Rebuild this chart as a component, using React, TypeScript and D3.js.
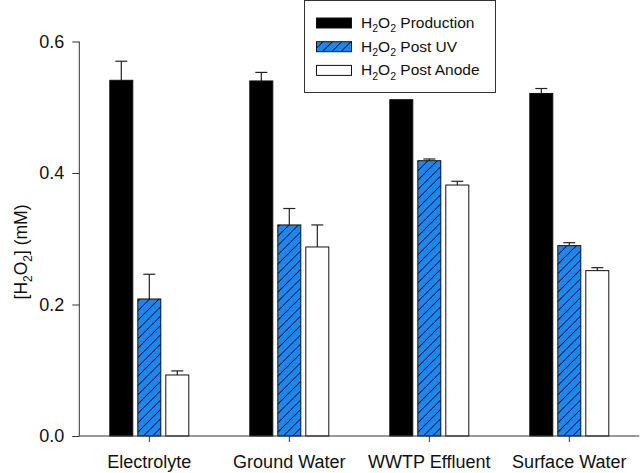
import React, { useRef, useEffect } from 'react';
import * as d3 from 'd3';

const categories = ['Electrolyte', 'Ground Water', 'WWTP Effluent', 'Surface Water'];
const seriesNames = ['Production', 'Post UV', 'Post Anode'];

const production = [0.541, 0.540, 0.5115, 0.521];
const productionErr = [0.029, 0.013, 0, 0.0075];
const postUV = [0.2084, 0.321, 0.4187, 0.2895];
const postUVErr = [0.0376, 0.025, 0.0026, 0.0045];
const postAnode = [0.0928, 0.2875, 0.3817, 0.2515];
const postAnodeErr = [0.0062, 0.0335, 0.0057, 0.0045];

const yTicks = [0, 0.2, 0.4, 0.6];

const FONT = '"Liberation Sans", Arial, sans-serif';
const BLUE = '#1a87f2';

// writes "H2O2" style text with subscripts into a text selection
function h2o2(sel: any, before: string, after: string, size: number) {
  const shift = size * 0.28;
  if (before) sel.append('tspan').text(before);
  sel.append('tspan').text('H');
  sel.append('tspan').attr('font-size', size * 0.68).attr('dy', shift).text('2');
  sel.append('tspan').attr('dy', -shift).text('O');
  sel.append('tspan').attr('font-size', size * 0.68).attr('dy', shift).text('2');
  sel.append('tspan').attr('dy', -shift).text(after);
}

const Chart: React.FC = () => {
  const ref = useRef<SVGSVGElement | null>(null);

  useEffect(() => {
    if (!ref.current) return;
    const svg = d3.select(ref.current);
    svg.selectAll('*').remove();

    const left = 79.3, right = 639.3, top = 41.5, bottom = 436;

    const defs = svg.append('defs');
    const pat = defs.append('pattern')
      .attr('id', 'hatch')
      .attr('patternUnits', 'userSpaceOnUse')
      .attr('width', 6.6)
      .attr('height', 6.6)
      .attr('patternTransform', 'rotate(45)');
    pat.append('rect').attr('width', 6.6).attr('height', 6.6).attr('fill', BLUE);
    pat.append('line').attr('x1', 0).attr('y1', 0).attr('x2', 0).attr('y2', 6.6)
      .attr('stroke', '#0a0a1a').attr('stroke-width', 1.7);

    const x0 = d3.scaleBand<string>().domain(categories).range([left, right]).padding(0);
    const y = d3.scaleLinear().domain([0, 0.6]).range([bottom, top]);

    const series = [
      { name: seriesNames[0], vals: production, err: productionErr, fill: '#000' },
      { name: seriesNames[1], vals: postUV, err: postUVErr, fill: 'url(#hatch)' },
      { name: seriesNames[2], vals: postAnode, err: postAnodeErr, fill: '#fff' },
    ];

    const g = svg.append('g');

    categories.forEach((c, ci) => {
      const cx = (x0(c) as number) + x0.bandwidth() / 2;
      const x1 = d3.scaleBand<string>().domain(seriesNames)
        .range([cx - 39.5, cx + 39.5]).paddingInner(5 / 28).paddingOuter(0);
      series.forEach((s) => {
        const bx = x1(s.name) as number;
        const bw = x1.bandwidth();
        const v = s.vals[ci];
        const e = s.err[ci];
        const mx = bx + bw / 2;
        if (e > 0) {
          g.append('line').attr('x1', mx).attr('x2', mx)
            .attr('y1', y(v)).attr('y2', y(v + e))
            .attr('stroke', '#222').attr('stroke-width', 1.2);
          g.append('line').attr('x1', mx - 6).attr('x2', mx + 6)
            .attr('y1', y(v + e)).attr('y2', y(v + e))
            .attr('stroke', '#222').attr('stroke-width', 1.2);
        }
        g.append('rect')
          .attr('x', bx).attr('y', y(v))
          .attr('width', bw).attr('height', y(0) - y(v))
          .attr('fill', s.fill)
          .attr('stroke', '#111').attr('stroke-width', 1);
      });
    });

    // y axis
    const yAxis = svg.append('g')
      .attr('transform', `translate(${left},0)`)
      .call(d3.axisLeft(y).tickValues(yTicks).tickFormat(d3.format('.1f')).tickSize(7).tickPadding(8));
    yAxis.select('.domain').attr('stroke', '#333').attr('d', `M-0,${top}V${bottom}`);
    yAxis.selectAll('.tick line').attr('stroke', '#333');
    yAxis.selectAll('text').attr('font-family', FONT).attr('font-size', 18).attr('fill', '#111');

    // x axis
    const xAxis = svg.append('g')
      .attr('transform', `translate(0,${bottom})`)
      .call(d3.axisBottom(x0).tickSize(6).tickPadding(13));
    xAxis.select('.domain').attr('stroke', '#333').attr('d', `M${left},0H${right}`);
    xAxis.selectAll('.tick line').attr('stroke', '#333');
    xAxis.selectAll('text').attr('font-family', FONT).attr('font-size', 18).attr('fill', '#111');

    // y title
    const yt = svg.append('text')
      .attr('transform', 'translate(27,252) rotate(-90)')
      .attr('text-anchor', 'middle')
      .attr('font-family', FONT).attr('font-size', 17.5).attr('fill', '#111');
    h2o2(yt, '[', '] (mM)', 17.5);

    // legend
    const lg = svg.append('g');
    lg.append('rect').attr('x', 304.5).attr('y', 0.5).attr('width', 191).attr('height', 92)
      .attr('fill', '#fff').attr('stroke', '#333').attr('stroke-width', 1);
    series.forEach((s, i) => {
      const cy = 23 + i * 23.7;
      lg.append('rect').attr('x', 316.5).attr('y', cy - 5).attr('width', 35).attr('height', 10)
        .attr('fill', s.fill).attr('stroke', '#111').attr('stroke-width', 1);
      const t = lg.append('text').attr('x', 361).attr('y', cy + 5)
        .attr('font-family', FONT).attr('font-size', 15.5).attr('fill', '#111');
      h2o2(t, '', ' ' + s.name, 15.5);
    });
  }, []);

  return (
    <svg ref={ref} width={642} height={473}
      style={{ position: 'absolute', left: 0, top: 0, background: '#fff' }} />
  );
};

export default function App() {
  return <Chart />;
}
